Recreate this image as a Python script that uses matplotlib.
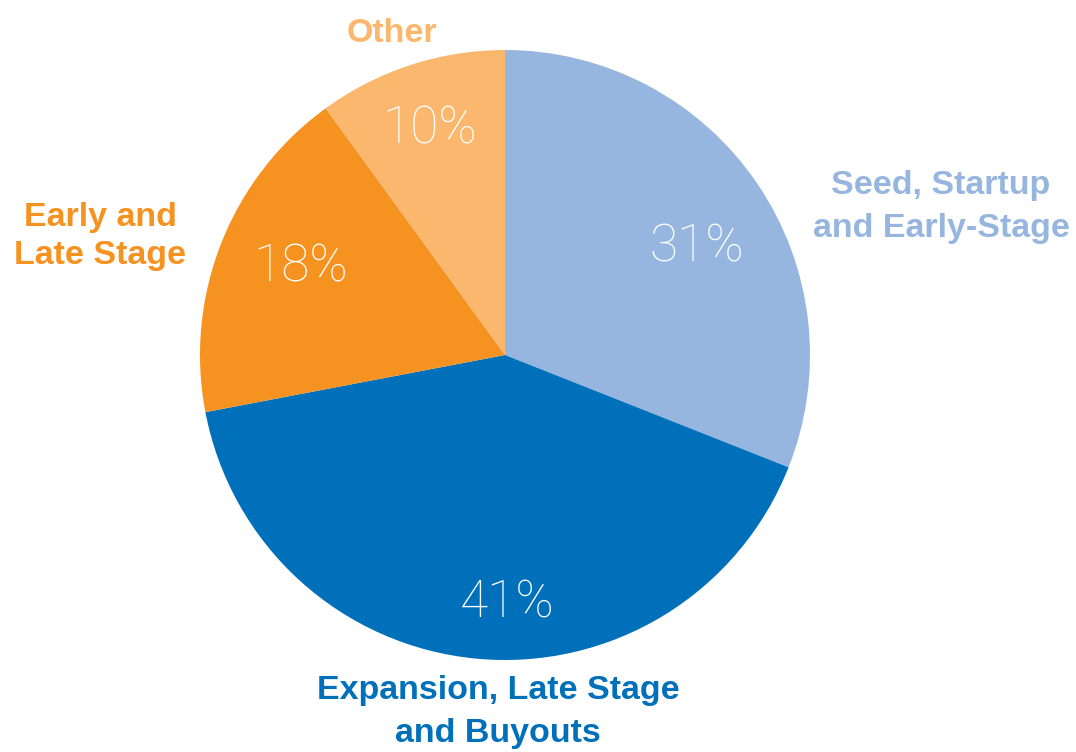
import matplotlib
matplotlib.use("Agg")
import matplotlib.pyplot as plt

# Share of investments by stage
categories = ["Seed, Startup\nand Early-Stage",
              "Expansion, Late Stage\nand Buyouts",
              "Early and\nLate Stage",
              "Other"]
shares = [31, 41, 18, 10]
colors = ["#97B6DF", "#0070BA", "#F6921F", "#FBB76D"]

W, H = 1076, 752
fig = plt.figure(figsize=(W / 100, H / 100), dpi=100)
ax = fig.add_axes([0, 0, 1, 1])

cx, cy, r = 505, H - 355, 305
wedges, _ = ax.pie(shares, colors=colors, startangle=90, counterclock=False,
                   radius=r, center=(cx, cy), frame=True,
                   wedgeprops=dict(linewidth=0))
ax.set_xlim(0, W)
ax.set_ylim(0, H)
ax.set_aspect("equal")
ax.axis("off")

# Percentage labels inside each wedge (x centre, baseline y)
pct_pos = [(697, H - 261), (507, H - 617), (301, H - 282), (430, H - 143)]
for (x, y), v in zip(pct_pos, shares):
    ax.text(x, y, f"{v}%", ha="center", va="baseline", color="white",
            fontsize=37, family="Roboto", fontweight="light")

# Category labels outside the pie (x centre, baseline of last line)
label_pos = [(941, H - 237), (498, H - 742), (100, H - 264), (392, H - 42)]
line_sp = [1.52, 1.5, 1.28, 1.2]
for (x, y), name, c, ls in zip(label_pos, categories, colors, line_sp):
    ax.text(x, y, name, ha="center", va="baseline", color=c, fontsize=24.5,
            family="Liberation Sans", fontweight="bold", linespacing=ls)

fig.savefig("out.png", dpi=100)
